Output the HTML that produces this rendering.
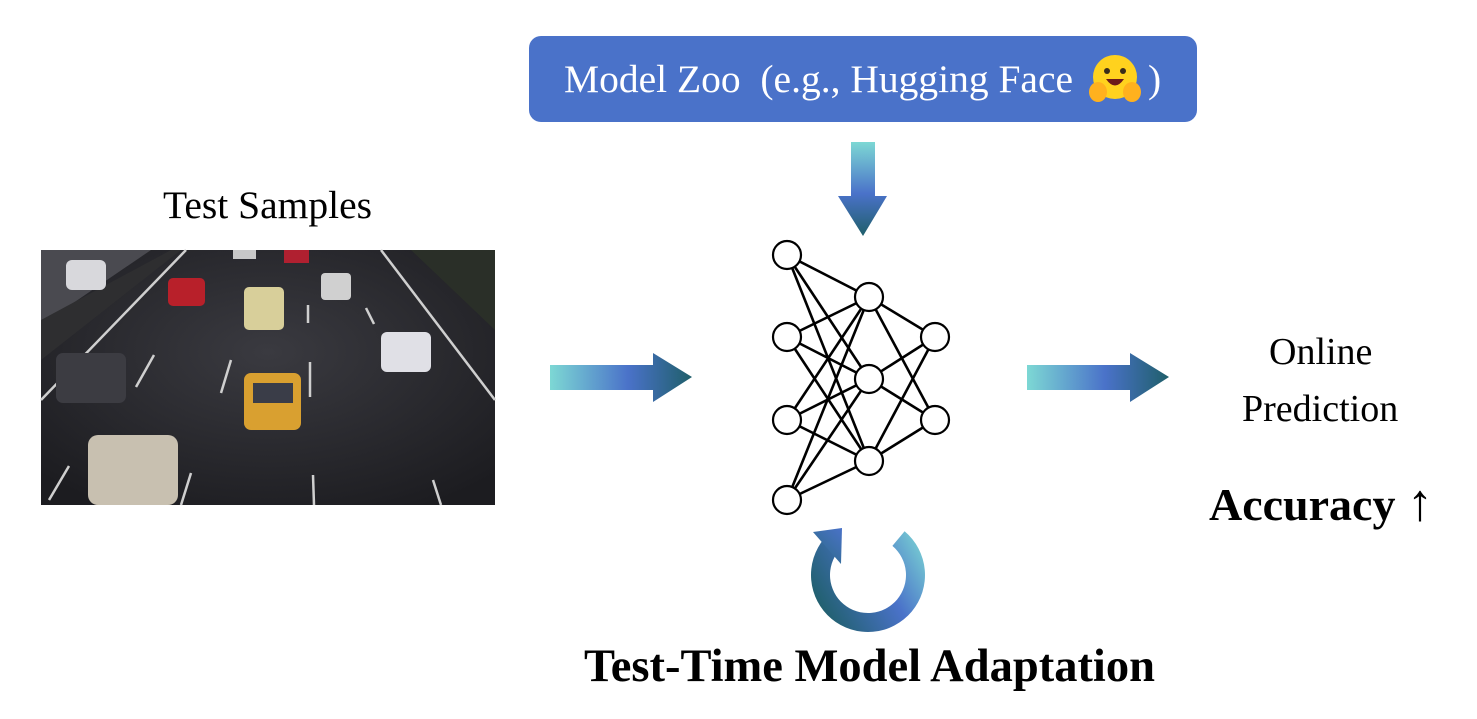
<!DOCTYPE html>
<html><head><meta charset="utf-8"><style>
body{margin:0;width:1477px;height:719px;background:#fff;overflow:hidden;font-family:"Liberation Serif",serif;}
.t{position:absolute;white-space:nowrap;color:#000;}
</style></head><body>
<svg width="1477" height="719" style="position:absolute;left:0;top:0">
<defs>
<linearGradient id="ga" x1="0" y1="0" x2="1" y2="0">
<stop offset="0" stop-color="#7dd8d4"/><stop offset="0.55" stop-color="#4a72c9"/><stop offset="1" stop-color="#1f5f6a"/></linearGradient>
<linearGradient id="gd" x1="0" y1="0" x2="0" y2="1">
<stop offset="0" stop-color="#7dd8d4"/><stop offset="0.55" stop-color="#4a72c9"/><stop offset="1" stop-color="#1f5f6a"/></linearGradient>
<linearGradient id="gc" gradientUnits="userSpaceOnUse" x1="925" y1="535" x2="812" y2="600">
<stop offset="0" stop-color="#7dd8d4"/><stop offset="0.45" stop-color="#4a72c9"/><stop offset="1" stop-color="#1f5f6a"/></linearGradient>
<linearGradient id="gh" gradientUnits="userSpaceOnUse" x1="845" y1="530" x2="812" y2="565">
<stop offset="0" stop-color="#4a72c9"/><stop offset="1" stop-color="#2a6a80"/></linearGradient>
<radialGradient id="road" cx="0.5" cy="0.4" r="0.7"><stop offset="0" stop-color="#3a3a40"/><stop offset="1" stop-color="#1c1c20"/></radialGradient>
</defs>
<rect x="529" y="36" width="668" height="86" rx="12" fill="#4a72c9"/>
<g transform="translate(41,250)">
<rect width="454" height="255" fill="url(#road)"/>
<polygon points="0,0 110,0 0,75" fill="#4a4a50"/>
<polygon points="0,70 130,0 140,0 0,110" fill="#2e2e30"/>
<polygon points="370,0 454,0 454,80" fill="#2a2f28"/>
<g stroke="#cfcfcf" stroke-width="2.5">
<line x1="145" y1="0" x2="0" y2="150"/><line x1="340" y1="0" x2="454" y2="150"/>
<line x1="113" y1="105" x2="95" y2="137" /><line x1="190" y1="110" x2="180" y2="143"/><line x1="269" y1="112" x2="269" y2="147"/>
<line x1="325" y1="58" x2="333" y2="74"/><line x1="267" y1="55" x2="267" y2="73"/><line x1="28" y1="216" x2="8" y2="250"/><line x1="150" y1="223" x2="140" y2="255"/><line x1="272" y1="225" x2="273" y2="255"/><line x1="392" y1="230" x2="400" y2="255"/>
</g>
<rect x="25" y="10" width="40" height="30" rx="6" fill="#d8d8dc"/>
<rect x="127" y="28" width="37" height="28" rx="5" fill="#b8202a"/>
<rect x="203" y="37" width="40" height="43" rx="5" fill="#d8cf9a"/>
<rect x="280" y="23" width="30" height="27" rx="4" fill="#d0d0d0"/>
<rect x="340" y="82" width="50" height="40" rx="6" fill="#e0e0e6"/>
<rect x="15" y="103" width="70" height="50" rx="7" fill="#3c3c42"/>
<rect x="203" y="123" width="57" height="57" rx="7" fill="#d9a030"/>
<rect x="212" y="133" width="40" height="20" fill="#3a3d48"/>
<rect x="47" y="185" width="90" height="70" rx="10" fill="#c8c0b0"/>
<rect x="192" y="0" width="23" height="9" fill="#c8c8c8"/><rect x="243" y="0" width="25" height="13" fill="#b02030"/>
</g>
<polygon points="550,365 653,365 653,353 692,377 653,402 653,390 550,390" fill="url(#ga)"/>
<polygon points="1027,365 1130,365 1130,353 1169,377 1130,402 1130,390 1027,390" fill="url(#ga)"/>
<polygon points="851,142 875,142 875,196 887,196 863,236 838,196 851,196" fill="url(#gd)"/>
<path d="M904.6,531.3 A57,57 0 1 1 824.3,538.4 L838.9,550.6 A38,38 0 1 0 892.4,545.9 Z" fill="url(#gc)"/>
<polygon points="813,532 842,528 841,564" fill="url(#gh)"/>
<g stroke="#000" stroke-width="2.6">
<line x1="787" y1="255" x2="869" y2="297"/><line x1="787" y1="255" x2="869" y2="379"/><line x1="787" y1="255" x2="869" y2="461"/>
<line x1="787" y1="337" x2="869" y2="297"/><line x1="787" y1="337" x2="869" y2="379"/><line x1="787" y1="337" x2="869" y2="461"/>
<line x1="787" y1="420" x2="869" y2="297"/><line x1="787" y1="420" x2="869" y2="379"/><line x1="787" y1="420" x2="869" y2="461"/>
<line x1="787" y1="500" x2="869" y2="297"/><line x1="787" y1="500" x2="869" y2="379"/><line x1="787" y1="500" x2="869" y2="461"/>
<line x1="869" y1="297" x2="935" y2="337"/><line x1="869" y1="297" x2="935" y2="420"/>
<line x1="869" y1="379" x2="935" y2="337"/><line x1="869" y1="379" x2="935" y2="420"/>
<line x1="869" y1="461" x2="935" y2="337"/><line x1="869" y1="461" x2="935" y2="420"/>
<g fill="#fff" stroke-width="2.2">
<circle cx="787" cy="255" r="14"/><circle cx="787" cy="337" r="14"/><circle cx="787" cy="420" r="14"/><circle cx="787" cy="500" r="14"/>
<circle cx="869" cy="297" r="14"/><circle cx="869" cy="379" r="14"/><circle cx="869" cy="461" r="14"/>
<circle cx="935" cy="337" r="14"/><circle cx="935" cy="420" r="14"/>
</g></g>
<g transform="translate(1115,80)">
<circle cx="0" cy="-3" r="22" fill="#ffd21e"/>
<circle cx="-8" cy="-9" r="3" fill="#3a2c1a"/><circle cx="8" cy="-9" r="3" fill="#3a2c1a"/>
<path d="M-9,-1 Q0,12 9,-1 Z" fill="#6b1a1a"/>
<ellipse cx="-17" cy="12" rx="9" ry="10" fill="#ffb11e"/><ellipse cx="17" cy="12" rx="9" ry="10" fill="#ffb11e"/>
</g>
</svg>
<div class="t" style="left:564px;top:56px;font-size:39.5px;color:#fff">Model Zoo&nbsp; (e.g., Hugging Face</div>
<div class="t" style="left:1148px;top:56px;font-size:39.5px;color:#fff">)</div>
<div class="t" style="left:163px;top:182px;font-size:39.5px">Test Samples</div>
<div class="t" style="left:1269px;top:330px;font-size:38px">Online</div>
<div class="t" style="left:1242px;top:387px;font-size:38px">Prediction</div>
<div class="t" style="left:1209px;top:474px;font-size:46px;font-weight:bold">Accuracy <span style="font-weight:normal;font-size:52px">↑</span></div>
<div class="t" style="left:584px;top:640px;font-size:46.5px;font-weight:bold">Test-Time Model Adaptation</div>
</body></html>
